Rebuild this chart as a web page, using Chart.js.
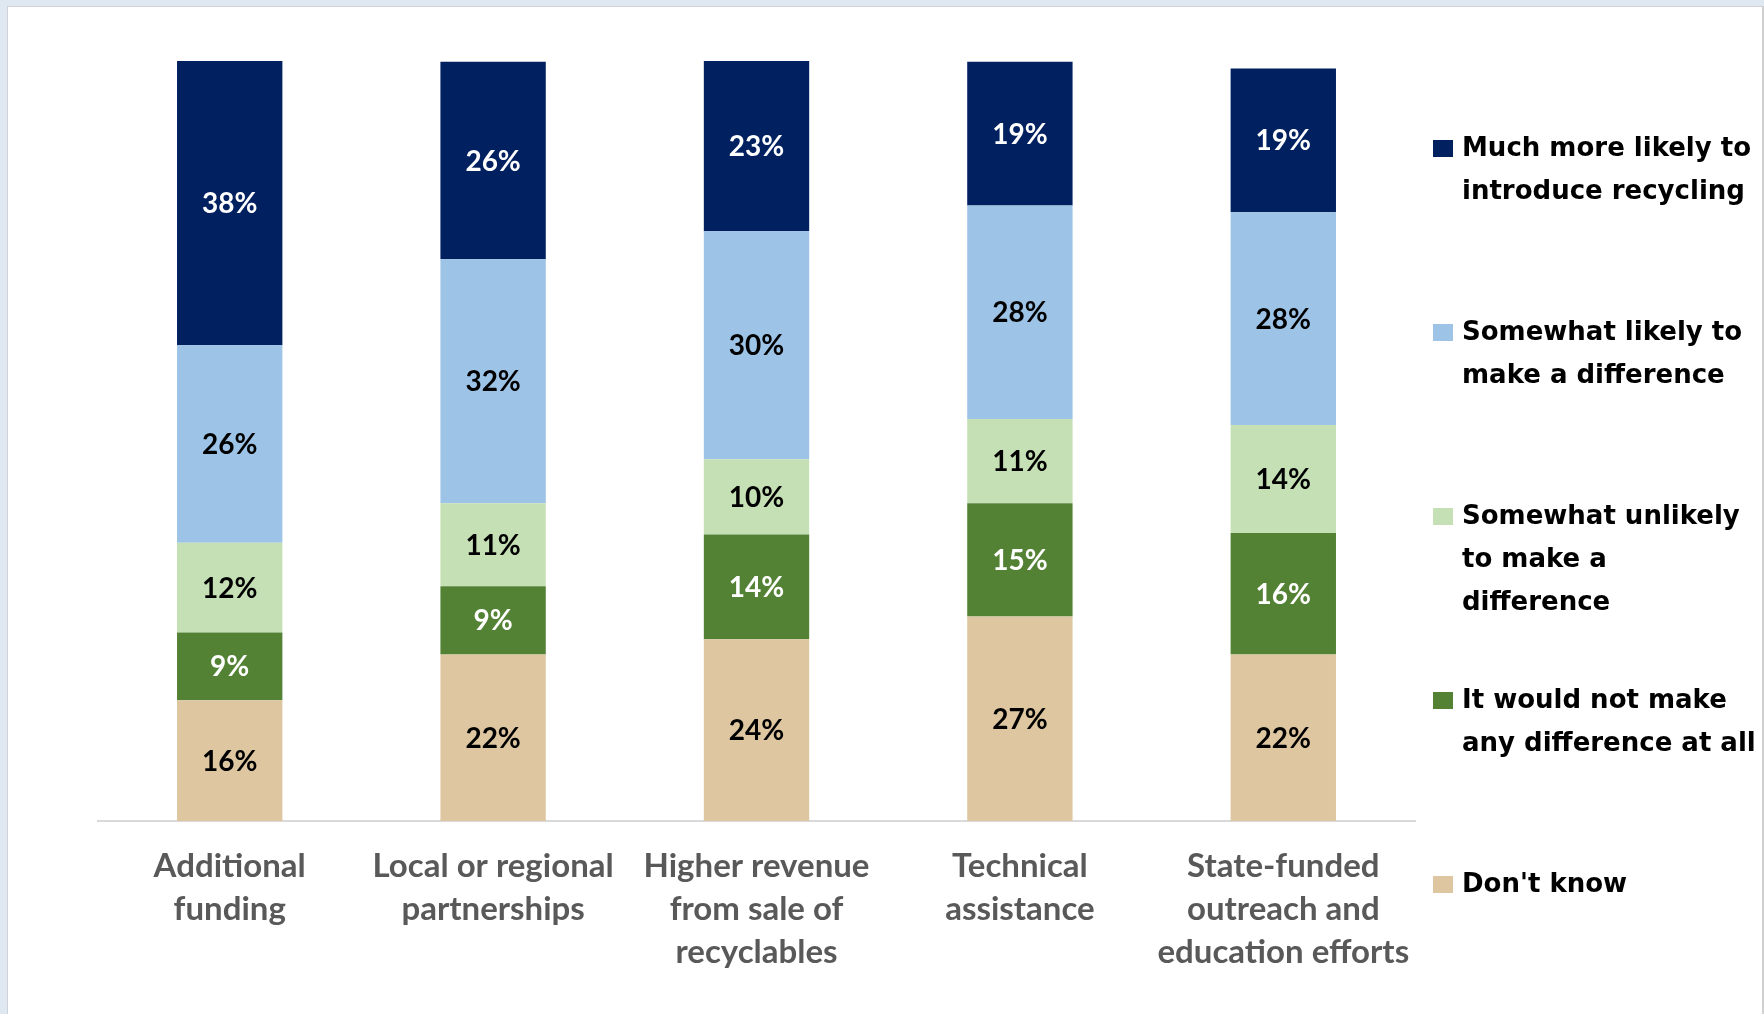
<!DOCTYPE html>
<html>
<head>
<meta charset="utf-8">
<script src="https://cdn.jsdelivr.net/npm/chart.js@4.4.1/dist/chart.umd.min.js"></script>
<style>
  html, body { margin: 0; padding: 0; }
  body { width: 1764px; height: 1014px; background: #dfe7f0; position: relative; overflow: hidden; }
  #frame { position: absolute; left: 7px; top: 6px; width: 1754px; height: 1008px; background: #fff;
           border-left: 1px solid #cfd3d8; border-top: 1px solid #cfd3d8; border-right: 2px solid #d0d0d0; }
  #wrap { position: absolute; left: 0; top: 0; width: 1764px; height: 1014px; }
</style>
</head>
<body>
<div id="frame"></div>
<div id="wrap"><canvas id="chart" width="1764" height="1014"></canvas></div>
<script>
const categories = [
    ['Additional', 'funding'],
    ['Local or regional', 'partnerships'],
    ['Higher revenue', 'from sale of', 'recyclables'],
    ['Technical', 'assistance'],
    ['State-funded', 'outreach and', 'education efforts']
];

// stacked bottom -> top
const dontKnow      = [15.9, 21.9, 23.9, 26.9, 21.9];
const notMake       = [8.9, 9.0, 13.8, 14.9, 16.0];
const somewhatUnl   = [11.8, 10.9, 9.9, 11.1, 14.2];
const somewhatLikely = [26.0, 32.1, 30.0, 28.1, 28.0];
const muchMore      = [37.5, 26.0, 22.5, 18.9, 18.9];

const seriesNames = [
    ["Don't know"],
    ['It would not make', 'any difference at all'],
    ['Somewhat unlikely', 'to make a', 'difference'],
    ['Somewhat likely to', 'make a difference'],
    ['Much more likely to', 'introduce recycling']
];
const seriesColors = ['#dec7a0', '#548235', '#c5e0b4', '#9dc3e6', '#002060'];
const labelColors = ['#000000', '#ffffff', '#000000', '#000000', '#ffffff'];

const barLabels = {
    id: 'barLabels',
    afterDatasetsDraw(chart) {
        const ctx = chart.ctx;
        ctx.save();
        ctx.font = 'bold 28px Lato';
        ctx.textAlign = 'center';
        ctx.textBaseline = 'middle';
        chart.data.datasets.forEach((ds, i) => {
            const meta = chart.getDatasetMeta(i);
            meta.data.forEach((bar, j) => {
                const v = ds.data[j];
                ctx.fillStyle = labelColors[i];
                ctx.fillText(Math.round(v) + '%', bar.x, (Math.max(bar.y, chart.chartArea.top) + bar.base) / 2 + 1);
            });
        });
        ctx.restore();
    }
};

const sideLegend = {
    id: 'sideLegend',
    afterDraw(chart) {
        const ctx = chart.ctx;
        ctx.save();
        ctx.font = 'bold 26px "DejaVu Sans"';
        ctx.textAlign = 'left';
        ctx.textBaseline = 'middle';
        const n = chart.data.datasets.length;
        for (let k = 0; k < n; k++) {
            const i = n - 1 - k;
            const y0 = 149 + k * 184;
            ctx.fillStyle = seriesColors[i];
            ctx.fillRect(1433, y0 - 9, 20, 17);
            ctx.fillStyle = '#000';
            seriesNames[i].forEach((line, l) => {
                ctx.fillText(line, 1462, y0 + l * 43);
            });
        }
        ctx.restore();
    }
};

const allSeries = [dontKnow, notMake, somewhatUnl, somewhatLikely, muchMore];

new Chart(document.getElementById('chart'), {
    type: 'bar',
    data: {
        labels: categories,
        datasets: allSeries.map((d, i) => ({
            label: seriesNames[i].join(' '),
            data: d,
            backgroundColor: seriesColors[i],
            borderWidth: 0,
            barPercentage: 0.4,
            categoryPercentage: 1
        }))
    },
    options: {
        responsive: false,
        animation: false,
        devicePixelRatio: 1,
        layout: { padding: { left: 98, right: 349, top: 61, bottom: 0 } },
        plugins: {
            legend: { display: false },
            tooltip: { enabled: false }
        },
        scales: {
            x: {
                stacked: true,
                grid: { display: false },
                border: { display: true, color: '#d9d9d9', width: 2 },
                ticks: {
                    color: '#595959',
                    font: { family: 'Lato', size: 33, weight: 'bold', lineHeight: 1.3 },
                    padding: 16,
                    maxRotation: 0,
                    autoSkip: false
                },
                afterFit(scale) { scale.height = 193; }
            },
            y: {
                stacked: true,
                display: false,
                min: 0,
                max: 100
            }
        }
    },
    plugins: [barLabels, sideLegend]
});
</script>
</body>
</html>
